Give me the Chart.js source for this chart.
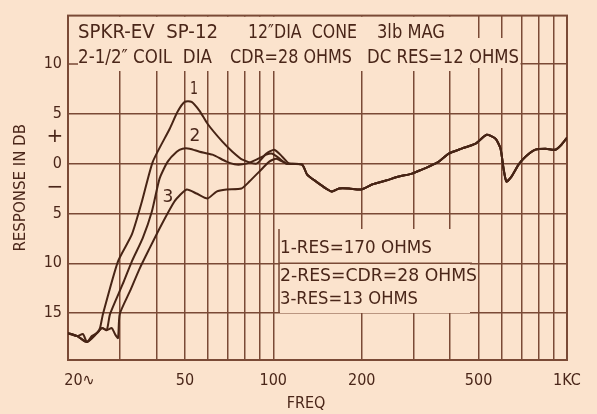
<!DOCTYPE html>
<html>
<head>
<meta charset="utf-8">
<script src="https://cdn.jsdelivr.net/npm/chart.js@4.4.1/dist/chart.umd.min.js"></script>
<style>
  html, body { margin: 0; padding: 0; background: #fbe3cd; }
  #wrap { width: 597px; height: 414px; position: relative; }
</style>
</head>
<body>
<div id="wrap"><canvas id="chart"></canvas></div>
<script>
// curve 1 - RES = 170 ohms (Hz / dB)
const curve1Freq = [20, 20.3, 21.5, 22.5, 23.2, 24.1, 25.1, 25.7, 26.3, 29.6, 33.0, 35.7, 38.9, 44.4, 47.2, 49.9, 52.7, 56.1, 59.7, 67.1, 72.6, 78.5, 87.6, 94.7, 100.8, 107.3];
const curve1Db   = [-17.0, -17.1, -17.3, -17.1, -17.9, -17.3, -17.0, -16.5, -15.1, -9.8, -7.1, -3.8, 0.2, 3.5, 5.2, 6.2, 6.2, 5.3, 4.0, 2.2, 1.2, 0.4, 0.0, 1.0, 1.4, 0.7];

// curve 2 - RES = CDR = 28 ohms
const curve2Freq = [20, 21.5, 23.2, 25.1, 26.1, 27.1, 27.8, 30.7, 33.0, 35.9, 38.6, 41.0, 43.7, 46.9, 49.1, 51.9, 56.1, 62.1, 69.3, 74.9, 81.0, 87.6, 94.7, 99.2, 104, 110.7];
const curve2Db   = [-17.0, -17.3, -17.9, -17.0, -16.5, -16.7, -15.1, -12.1, -9.8, -7.5, -4.8, -1.5, 0.2, 1.2, 1.5, 1.5, 1.2, 0.9, 0.2, -0.1, 0.0, 0.4, 0.9, 1.0, 0.6, 0.0];

// curve 3 - RES = 13 ohms
const curve3Freq = [20, 21.5, 23.2, 25.1, 26.1, 27.1, 28.2, 28.9, 29.6, 30.0, 32.5, 35.1, 37.9, 41.0, 45.4, 46.9, 50.7, 54.8, 59.7, 64.1, 69.3, 77.9, 82.9, 89.6, 96.9, 102.4, 110.7];
const curve3Db   = [-17.0, -17.3, -17.9, -17.0, -16.5, -16.7, -16.5, -17.1, -17.5, -15.1, -12.8, -10.5, -8.5, -6.5, -4.1, -3.5, -2.6, -3.0, -3.5, -2.8, -2.6, -2.5, -1.8, -0.8, 0.2, 0.5, 0.0];

// above ~110 Hz the three curves run together
const tailFreq = [113.3, 125.4, 130.4, 140, 151.3, 158.6, 167.5, 181.1, 198.9, 216.8, 241.8, 267.8, 296.4, 320.4, 338.4, 366, 395.6, 437.8, 488.6, 532.6, 571.2, 594, 608, 622, 647, 684, 722, 781, 844, 913, 957, 1000];
const tailDb   = [0.0, -0.1, -1.1, -1.8, -2.5, -2.8, -2.5, -2.5, -2.6, -2.1, -1.7, -1.3, -1.0, -0.6, -0.3, 0.2, 1.0, 1.5, 2.0, 2.9, 2.5, 1.5, -0.5, -1.8, -1.3, -0.1, 0.7, 1.4, 1.5, 1.4, 1.9, 2.6];

const gridFreqs = [20, 30, 40, 50, 60, 70, 80, 90, 100, 200, 300, 400, 500, 600, 700, 800, 900, 1000];
const freqLabels = { 20: '     20\u223F', 50: '50', 100: '100', 200: '200', 500: '500', 1000: '1KC' };
const dbTicks = [-15, -10, -5, 0, 5, 10];

const headerLines = [
    [['SPKR-EV  SP-12', 78, 140], ['12\u2033DIA  CONE', 248, 109], ['3lb MAG', 377, 68]],
    [['2-1/2\u2033 COIL  DIA', 78, 134], ['CDR=28 OHMS', 230, 122], ['DC RES=12 OHMS', 367, 152]]
];
const legendLines = ['1-RES=170 OHMS', '2-RES=CDR=28 OHMS', '3-RES=13 OHMS'];

const PAPER = '#fbe3cd';
const GRID = '#7a4a36';
const INK = '#472415';
const TEXT = '#4a2619';

function points(freqs, dbs) {
    return freqs.map((f, i) => ({ x: f, y: dbs[i] }));
}

const paperPlugin = {
    id: 'paper',
    beforeDraw(chart) {
        const ctx = chart.ctx;
        ctx.save();
        ctx.fillStyle = PAPER;
        ctx.fillRect(0, 0, chart.width, chart.height);
        ctx.restore();
    },
    beforeDatasetsDraw(chart) {
        const { ctx, chartArea: a, scales: { x, y } } = chart;
        ctx.save();
        ctx.fillStyle = PAPER;
        // blank the grid behind the heading
        ctx.fillRect(a.left + 1, a.top + 1, x.getPixelForValue(470) - a.left - 1, 70 - a.top);
        ctx.fillRect(x.getPixelForValue(470), 38, x.getPixelForValue(700) - x.getPixelForValue(470) - 1, 30);
        // blank the grid behind the legend
        ctx.fillRect(280, 229, 190, 84);

        ctx.strokeStyle = GRID;
        ctx.lineWidth = 1.5;
        ctx.beginPath();
        // tick at 10 dB
        ctx.moveTo(a.left, y.getPixelForValue(10));
        ctx.lineTo(a.left + 10, y.getPixelForValue(10));
        // -10 dB line through the legend
        ctx.moveTo(279, y.getPixelForValue(-10));
        ctx.lineTo(472, y.getPixelForValue(-10));
        // legend box edge
        ctx.moveTo(279, 229);
        ctx.lineTo(279, 313);
        ctx.stroke();

        ctx.lineWidth = 2;
        ctx.strokeRect(a.left, a.top, a.right - a.left, a.bottom - a.top);
        ctx.restore();
    },
    afterDraw(chart) {
        const { ctx, scales: { y } } = chart;
        ctx.save();
        ctx.fillStyle = TEXT;
        ctx.textBaseline = 'middle';
        ctx.textAlign = 'left';

        ctx.font = '20px "DejaVu Sans"';
        [32.5, 57.5].forEach((yy, r) => {
            headerLines[r].forEach(([t, xx, w]) => ctx.fillText(t, xx, yy, w));
        });

        ctx.font = '18px "DejaVu Sans"';
        const legendWidths = [152, 197, 138];
        [248, 276, 299].forEach((yy, i) => ctx.fillText(legendLines[i], 280, yy, legendWidths[i]));

        // curve numbers
        ctx.font = '17px "DejaVu Sans"';
        ctx.textAlign = 'center';
        ctx.fillText('1', 194, 90, 8);
        ctx.fillText('2', 195, 137);
        ctx.fillText('3', 168, 198);

        // +/- signs beside the dB scale
        ctx.font = '20px "DejaVu Sans"';
        ctx.fillText('+', 55, y.getPixelForValue(2.7));
        ctx.fillText('\u2212', 55, y.getPixelForValue(-2.4));
        ctx.restore();
    }
};

const curveStyle = {
    borderColor: INK,
    borderWidth: 2,
    pointRadius: 0,
    tension: 0.2,
    fill: false
};

new Chart(document.getElementById('chart'), {
    type: 'line',
    data: {
        datasets: [
            { label: '1', data: points(curve1Freq.concat(tailFreq), curve1Db.concat(tailDb)), ...curveStyle },
            { label: '2', data: points(curve2Freq.concat(tailFreq), curve2Db.concat(tailDb)), ...curveStyle },
            { label: '3', data: points(curve3Freq.concat(tailFreq), curve3Db.concat(tailDb)), ...curveStyle }
        ]
    },
    options: {
        responsive: true,
        maintainAspectRatio: false,
        animation: false,
        layout: { padding: { top: 13, right: 30, left: 0, bottom: 0 } },
        plugins: {
            legend: { display: false },
            tooltip: { enabled: false }
        },
        scales: {
            x: {
                type: 'logarithmic',
                min: 20,
                max: 1000,
                afterBuildTicks: (scale) => { scale.ticks = gridFreqs.map(v => ({ value: v })); },
                afterFit: (scale) => { scale.height = 54; },
                ticks: {
                    autoSkip: false,
                    maxRotation: 0,
                    padding: 11,
                    color: TEXT,
                    font: { family: "'DejaVu Sans Condensed', 'DejaVu Sans'", size: 16 },
                    callback: (v) => freqLabels[v] || ''
                },
                grid: { color: GRID, lineWidth: 1.5, drawTicks: false },
                border: { display: false },
                title: {
                    display: true,
                    text: 'FREQ     ',
                    color: TEXT,
                    padding: { top: 0, bottom: 1 },
                    font: { family: "'DejaVu Sans Condensed', 'DejaVu Sans'", size: 16 }
                }
            },
            y: {
                min: -19.7,
                max: 14.85,
                afterBuildTicks: (scale) => { scale.ticks = dbTicks.map(v => ({ value: v })); },
                afterFit: (scale) => { scale.width = 68; },
                ticks: {
                    padding: 6,
                    color: TEXT,
                    font: { family: "'DejaVu Sans Condensed', 'DejaVu Sans'", size: 16 },
                    callback: (v) => String(Math.abs(v))
                },
                grid: { color: GRID, lineWidth: 1.5, drawTicks: false },
                border: { display: false },
                title: {
                    display: true,
                    text: 'RESPONSE IN DB',
                    color: TEXT,
                    padding: { top: 12, bottom: 0 },
                    font: { family: "'DejaVu Sans'", size: 15 }
                }
            }
        }
    },
    plugins: [paperPlugin]
});
</script>
</body>
</html>
